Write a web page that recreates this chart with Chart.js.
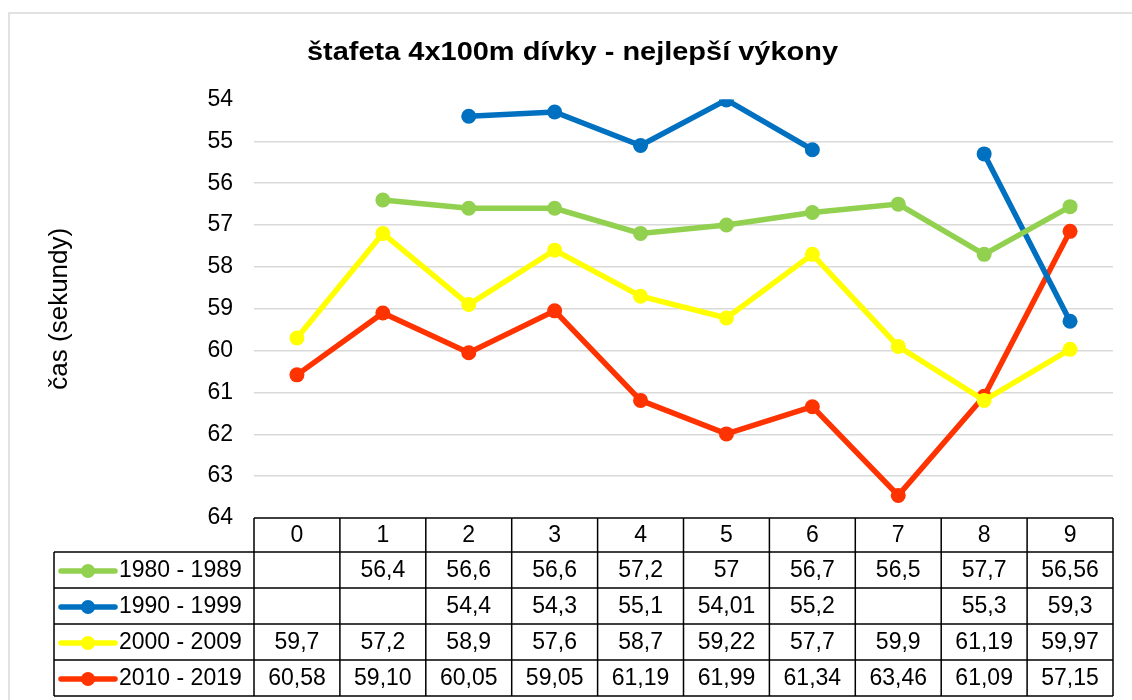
<!DOCTYPE html>
<html>
<head>
<meta charset="utf-8">
<script src="https://cdn.jsdelivr.net/npm/chart.js@4"></script>
<style>
  html, body { margin: 0; padding: 0; background: #fff; }
  #wrap { width: 1132px; height: 700px; }
</style>
</head>
<body>
<div id="wrap"><canvas id="chart" width="1132" height="700"></canvas></div>
<script>
// Data
const categories = ['0', '1', '2', '3', '4', '5', '6', '7', '8', '9'];
const seriesNames = ['1980 - 1989', '1990 - 1999', '2000 - 2009', '2010 - 2019'];
const values80s = [null, 56.4, 56.6, 56.6, 57.2, 57, 56.7, 56.5, 57.7, 56.56];
const values90s = [null, null, 54.4, 54.3, 55.1, 54.01, 55.2, null, 55.3, 59.3];
const values00s = [59.7, 57.2, 58.9, 57.6, 58.7, 59.22, 57.7, 59.9, 61.19, 59.97];
const values10s = [60.58, 59.10, 60.05, 59.05, 61.19, 61.99, 61.34, 63.46, 61.09, 57.15];
const seriesColors = ['#92D050', '#0070C0', '#FFFF00', '#FF3300'];
const seriesDecimals = [null, null, null, 2]; // last series shown with 2 decimals in the table
const yTicks = [54, 55, 56, 57, 58, 59, 60, 61, 62, 63, 64];
const chartTitle = 'štafeta 4x100m dívky - nejlepší výkony';

const FONT = "'Liberation Sans', Arial, sans-serif";
const allSeries = [values80s, values90s, values00s, values10s];

function fmt(v, dec) {
  if (v === null) return '';
  const s = dec ? v.toFixed(dec) : String(v);
  return s.replace('.', ',');
}

// Frame, title and data table under the plot
const tablePlugin = {
  id: 'dataTable',
  beforeDraw(chart) {
    const ctx = chart.ctx;
    ctx.save();
    ctx.strokeStyle = '#d9d9d9';
    ctx.lineWidth = 1.5;
    ctx.beginPath();
    ctx.moveTo(9, 700); ctx.lineTo(9, 13); ctx.lineTo(1132, 13);
    ctx.stroke();

    // title: the original is drawn wide, so stretch it a bit
    ctx.fillStyle = '#000';
    ctx.font = 'bold 25px ' + FONT;
    ctx.textAlign = 'center';
    ctx.textBaseline = 'alphabetic';
    const w = ctx.measureText(chartTitle).width;
    const sx = 531 / w;
    ctx.translate(572.5, 60);
    ctx.scale(sx, 1);
    ctx.fillText(chartTitle, 0, 0);
    ctx.restore();
  },
  afterDraw(chart) {
    const ctx = chart.ctx;
    const x = chart.scales.x;
    const area = chart.chartArea;
    const colW = (area.right - area.left) / categories.length;
    const headTop = area.bottom;
    const headBot = headTop + 34;
    const rowH = 36;
    const legLeft = 54;
    const bottom = headBot + rowH * seriesNames.length;

    ctx.save();
    ctx.strokeStyle = '#000';
    ctx.lineWidth = 1.5;
    ctx.beginPath();
    ctx.moveTo(area.left, headTop); ctx.lineTo(area.right, headTop);
    ctx.moveTo(legLeft, headBot); ctx.lineTo(area.right, headBot);
    for (let r = 1; r <= seriesNames.length; r++) {
      ctx.moveTo(legLeft, headBot + rowH * r); ctx.lineTo(area.right, headBot + rowH * r);
    }
    ctx.moveTo(legLeft, headBot); ctx.lineTo(legLeft, bottom);
    for (let i = 0; i <= categories.length; i++) {
      const cx = area.left + colW * i;
      ctx.moveTo(cx, headTop); ctx.lineTo(cx, bottom);
    }
    ctx.stroke();

    ctx.fillStyle = '#000';
    ctx.font = '23px ' + FONT;
    ctx.textAlign = 'center';
    ctx.textBaseline = 'middle';
    categories.forEach((c, i) => {
      ctx.fillText(c, x.getPixelForValue(i), (headTop + headBot) / 2 + 1);
    });

    seriesNames.forEach((name, r) => {
      const cy = headBot + rowH * r + rowH / 2 + 1;
      // legend key
      ctx.strokeStyle = seriesColors[r];
      ctx.lineWidth = 5.5;
      ctx.lineCap = 'round';
      ctx.beginPath();
      ctx.moveTo(61, cy); ctx.lineTo(115, cy);
      ctx.stroke();
      ctx.fillStyle = seriesColors[r];
      ctx.beginPath();
      ctx.arc(88, cy, 7, 0, Math.PI * 2);
      ctx.fill();
      ctx.fillStyle = '#000';
      ctx.textAlign = 'left';
      ctx.fillText(name, 119, cy);
      ctx.textAlign = 'center';
      allSeries[r].forEach((v, i) => {
        ctx.fillText(fmt(v, seriesDecimals[r]), x.getPixelForValue(i), cy);
      });
    });
    ctx.restore();
  }
};

const datasets = seriesNames.map((name, i) => ({
  label: name,
  data: allSeries[i],
  borderColor: seriesColors[i],
  backgroundColor: seriesColors[i],
  borderWidth: 5.5,
  pointRadius: 7.5,
  pointHoverRadius: 7.5,
  pointBorderWidth: 0,
  tension: 0,
  spanGaps: false
}));

new Chart(document.getElementById('chart'), {
  type: 'line',
  data: { labels: categories, datasets },
  plugins: [tablePlugin],
  options: {
    responsive: false,
    animation: false,
    layout: { padding: { left: 0, right: 19, top: 99.5, bottom: 182 } },
    plugins: {
      legend: { display: false },
      tooltip: { enabled: false },
      title: { display: false }
    },
    scales: {
      x: {
        display: false,
        offset: true
      },
      y: {
        reverse: true,
        min: 54,
        max: 64,
        afterFit(scale) { scale.width = 254; },
        afterBuildTicks(scale) { scale.ticks = yTicks.map(v => ({ value: v })); },
        ticks: {
          color: '#000',
          padding: 21,
          font: { family: FONT, size: 23 }
        },
        border: { display: false },
        grid: {
          drawTicks: false,
          lineWidth: 1.5,
          color: c => (c.tick && (c.tick.value === 54 || c.tick.value === 64)) ? 'rgba(0,0,0,0)' : '#d9d9d9'
        },
        title: {
          display: true,
          text: 'čas (sekundy)',
          color: '#000',
          font: { family: FONT, size: 26, lineHeight: 1.2 },
          padding: { top: 44 }
        }
      }
    }
  }
});
</script>
</body>
</html>
